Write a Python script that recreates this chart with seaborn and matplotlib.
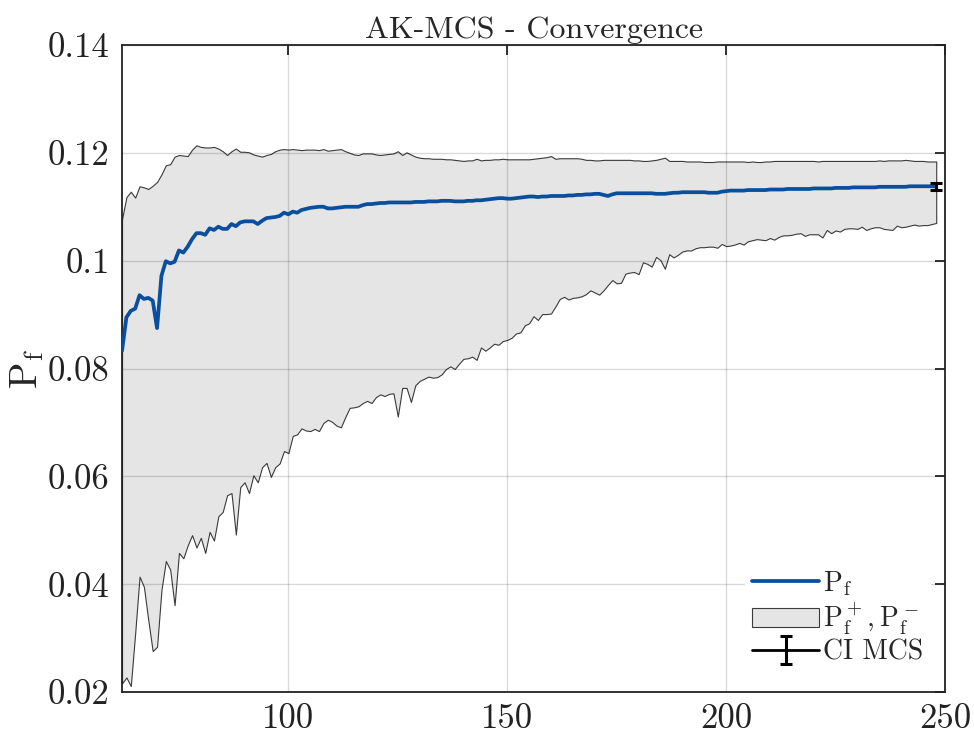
import numpy as np
import pandas as pd
import seaborn as sns
import matplotlib
matplotlib.use("Agg")
import matplotlib.pyplot as plt
from matplotlib.lines import Line2D
from matplotlib.patches import Patch

# Number of model evaluations (experimental design size)
n_samples = list(range(62, 249))

# Failure probability estimate
pf = [
    0.0833, 0.0895, 0.0907, 0.0911, 0.0936, 0.0929, 0.0931, 0.0926, 0.0875, 0.0972,  # 62-71
    0.0999, 0.0995, 0.0998, 0.1019, 0.1015, 0.1026, 0.1040, 0.1051, 0.1051, 0.1048,  # 72-81
    0.1060, 0.1057, 0.1063, 0.1059, 0.1059, 0.1068, 0.1064, 0.1071, 0.1073, 0.1073,  # 82-91
    0.1073, 0.1068, 0.1074, 0.1079, 0.1080, 0.1081, 0.1083, 0.1089, 0.1086, 0.1091,  # 92-101
    0.1089, 0.1094, 0.1096, 0.1098, 0.1099, 0.1100, 0.1100, 0.1097, 0.1097, 0.1098,  # 102-111
    0.1099, 0.1100, 0.1100, 0.1100, 0.1100, 0.1103, 0.1105, 0.1105, 0.1106, 0.1107,  # 112-121
    0.1107, 0.1108, 0.1108, 0.1108, 0.1108, 0.1108, 0.1108, 0.1109, 0.1109, 0.1109,  # 122-131
    0.1110, 0.1110, 0.1110, 0.1111, 0.1111, 0.1111, 0.1110, 0.1110, 0.1110, 0.1111,  # 132-141
    0.1111, 0.1112, 0.1112, 0.1113, 0.1114, 0.1115, 0.1116, 0.1116, 0.1115, 0.1115,  # 142-151
    0.1116, 0.1117, 0.1118, 0.1119, 0.1119, 0.1118, 0.1119, 0.1119, 0.1120, 0.1120,  # 152-161
    0.1120, 0.1120, 0.1121, 0.1121, 0.1122, 0.1122, 0.1123, 0.1123, 0.1124, 0.1124,  # 162-171
    0.1122, 0.1120, 0.1123, 0.1125, 0.1125, 0.1125, 0.1125, 0.1125, 0.1125, 0.1125,  # 172-181
    0.1125, 0.1125, 0.1124, 0.1124, 0.1124, 0.1125, 0.1126, 0.1126, 0.1127, 0.1127,  # 182-191
    0.1127, 0.1127, 0.1127, 0.1127, 0.1126, 0.1126, 0.1126, 0.1128, 0.1129, 0.1130,  # 192-201
    0.1130, 0.1130, 0.1130, 0.1131, 0.1131, 0.1131, 0.1131, 0.1131, 0.1132, 0.1132,  # 202-211
    0.1132, 0.1132, 0.1133, 0.1133, 0.1133, 0.1133, 0.1133, 0.1133, 0.1134, 0.1134,  # 212-221
    0.1134, 0.1134, 0.1134, 0.1135, 0.1135, 0.1135, 0.1135, 0.1136, 0.1136, 0.1136,  # 222-231
    0.1136, 0.1136, 0.1136, 0.1137, 0.1137, 0.1137, 0.1137, 0.1137, 0.1137, 0.1137,  # 232-241
    0.1138, 0.1138, 0.1138, 0.1138, 0.1138, 0.1138, 0.1138,                          # 242-248
]

# Upper bound Pf+
pf_upper = [
    0.1077, 0.1118, 0.1128, 0.1117, 0.1138, 0.1136, 0.1133, 0.1139, 0.1146, 0.1160,
    0.1177, 0.1179, 0.1193, 0.1196, 0.1195, 0.1194, 0.1206, 0.1214, 0.1211, 0.1210,
    0.1210, 0.1211, 0.1208, 0.1203, 0.1196, 0.1203, 0.1208, 0.1202, 0.1202, 0.1201,
    0.1197, 0.1195, 0.1193, 0.1196, 0.1198, 0.1203, 0.1206, 0.1207, 0.1206, 0.1207,
    0.1206, 0.1205, 0.1206, 0.1206, 0.1206, 0.1205, 0.1207, 0.1204, 0.1205, 0.1206,
    0.1207, 0.1203, 0.1200, 0.1197, 0.1196, 0.1199, 0.1199, 0.1199, 0.1197, 0.1196,
    0.1197, 0.1198, 0.1199, 0.1203, 0.1196, 0.1201, 0.1197, 0.1193, 0.1191, 0.1190,
    0.1190, 0.1189, 0.1189, 0.1189, 0.1188, 0.1188, 0.1187, 0.1186, 0.1185, 0.1186,
    0.1186, 0.1189, 0.1186, 0.1187, 0.1187, 0.1188, 0.1188, 0.1189, 0.1188, 0.1188,
    0.1188, 0.1188, 0.1188, 0.1188, 0.1189, 0.1190, 0.1191, 0.1192, 0.1194, 0.1189,
    0.1190, 0.1190, 0.1190, 0.1190, 0.1190, 0.1189, 0.1187, 0.1187, 0.1186, 0.1186,
    0.1187, 0.1187, 0.1187, 0.1187, 0.1187, 0.1187, 0.1187, 0.1186, 0.1186, 0.1185,
    0.1185, 0.1186, 0.1187, 0.1189, 0.1191, 0.1185, 0.1185, 0.1185, 0.1185, 0.1184,
    0.1184, 0.1184, 0.1184, 0.1183, 0.1183, 0.1183, 0.1184, 0.1184, 0.1184, 0.1184,
    0.1184, 0.1184, 0.1184, 0.1183, 0.1184, 0.1183, 0.1183, 0.1184, 0.1184, 0.1185,
    0.1185, 0.1185, 0.1185, 0.1185, 0.1185, 0.1185, 0.1185, 0.1185, 0.1185, 0.1184,
    0.1185, 0.1185, 0.1185, 0.1185, 0.1185, 0.1185, 0.1185, 0.1185, 0.1185, 0.1185,
    0.1185, 0.1185, 0.1185, 0.1186, 0.1185, 0.1186, 0.1186, 0.1186, 0.1186, 0.1187,
    0.1186, 0.1185, 0.1185, 0.1185, 0.1184, 0.1184, 0.1184,
]

# Lower bound Pf-
pf_lower = [
    0.0216, 0.0227, 0.0211, 0.0309, 0.0414, 0.0395, 0.0333, 0.0276, 0.0284, 0.0389,
    0.0443, 0.0427, 0.0361, 0.0458, 0.0448, 0.0472, 0.0491, 0.0468, 0.0486, 0.0458,
    0.0497, 0.0481, 0.0526, 0.0534, 0.0565, 0.0569, 0.0492, 0.0580, 0.0589, 0.0569,
    0.0602, 0.0589, 0.0617, 0.0625, 0.0599, 0.0617, 0.0624, 0.0647, 0.0643, 0.0675,
    0.0678, 0.0689, 0.0685, 0.0684, 0.0688, 0.0684, 0.0699, 0.0705, 0.0701, 0.0694,
    0.0691, 0.0710, 0.0727, 0.0728, 0.0730, 0.0736, 0.0740, 0.0736, 0.0747, 0.0752,
    0.0749, 0.0753, 0.0754, 0.0711, 0.0764, 0.0764, 0.0738, 0.0769, 0.0777, 0.0781,
    0.0785, 0.0783, 0.0784, 0.0789, 0.0799, 0.0804, 0.0799, 0.0809, 0.0818, 0.0819,
    0.0822, 0.0816, 0.0839, 0.0833, 0.0839, 0.0846, 0.0844, 0.0851, 0.0853, 0.0857,
    0.0865, 0.0867, 0.0880, 0.0884, 0.0897, 0.0890, 0.0901, 0.0901, 0.0902, 0.0915,
    0.0929, 0.0933, 0.0928, 0.0931, 0.0932, 0.0934, 0.0938, 0.0945, 0.0941, 0.0937,
    0.0945, 0.0955, 0.0964, 0.0958, 0.0959, 0.0976, 0.0978, 0.0979, 0.0975, 0.0997,
    0.0994, 0.0989, 0.1007, 0.1001, 0.0985, 0.1012, 0.1006, 0.1011, 0.1017, 0.1019,
    0.1019, 0.1023, 0.1025, 0.1025, 0.1026, 0.1026, 0.1024, 0.1031, 0.1027, 0.1028,
    0.1030, 0.1033, 0.1030, 0.1036, 0.1038, 0.1040, 0.1039, 0.1038, 0.1042, 0.1039,
    0.1044, 0.1047, 0.1047, 0.1048, 0.1050, 0.1051, 0.1046, 0.1049, 0.1049, 0.1049,
    0.1043, 0.1057, 0.1051, 0.1056, 0.1054, 0.1059, 0.1060, 0.1060, 0.1059, 0.1063,
    0.1057, 0.1060, 0.1062, 0.1062, 0.1059, 0.1058, 0.1057, 0.1065, 0.1062, 0.1063,
    0.1065, 0.1067, 0.1065, 0.1066, 0.1066, 0.1068, 0.1070,
]

# Reference Monte Carlo confidence interval
mcs_n = 248
mcs_pf = 0.1138
mcs_ci_half = 0.0007

x_ticks = [100, 150, 200, 250]
y_ticks = [0.02, 0.04, 0.06, 0.08, 0.10, 0.12, 0.14]
y_tick_labels = ["0.02", "0.04", "0.06", "0.08", "0.1", "0.12", "0.14"]

df = pd.DataFrame({"N": n_samples, "Pf": pf, "Pf_up": pf_upper, "Pf_lo": pf_lower})

sns.set_style("white")
plt.rcParams["font.family"] = ["serif"]
plt.rcParams["font.serif"] = ["cmr10", "DejaVu Serif"]
plt.rcParams["mathtext.fontset"] = "cm"
plt.rcParams["axes.formatter.use_mathtext"] = True

blue = "#0a4f9d"
band_face = "#e5e5e5"
band_edge = "#3a3a3a"

fig = plt.figure(figsize=(9.74, 7.38), dpi=100)
ax = fig.add_axes([0.1253, 0.0623, 0.8449, 0.8767])

ax.fill_between(df["N"], df["Pf_lo"], df["Pf_up"], facecolor=band_face,
                edgecolor=band_edge, linewidth=0.8, zorder=1)
sns.lineplot(data=df, x="N", y="Pf", color=blue, linewidth=2.7,
             estimator=None, ax=ax, zorder=3)
ax.errorbar([mcs_n], [mcs_pf], yerr=[mcs_ci_half], fmt="k-", ecolor="k",
            linewidth=2.0, elinewidth=2.2, capsize=4, capthick=2.2, zorder=4)

ax.set_xlim(62, 250)
ax.set_ylim(0.02, 0.14)
ax.set_xticks(x_ticks)
ax.set_xticklabels([str(t) for t in x_ticks])
ax.set_yticks(y_ticks)
ax.set_yticklabels(y_tick_labels)

ax.set_axisbelow("line")
ax.grid(True, color="black", alpha=0.15, linewidth=1.0)
ax.tick_params(axis="both", which="both", direction="in", length=7, width=1.3,
               top=True, right=True, labelsize=25, colors="#222222")
ax.tick_params(axis="y", pad=9)
ax.tick_params(axis="x", pad=8)
for sp in ax.spines.values():
    sp.set_color("#222222")
    sp.set_linewidth(1.3)

ax.set_xlabel("")
ax.set_ylabel(r"$\mathrm{P_f}$", fontsize=28)
ax.yaxis.set_label_coords(-0.093, 0.5)
ax.set_title("AK-MCS - Convergence", fontsize=23, pad=5)

handles = [
    Line2D([0], [0], color=blue, linewidth=2.7),
    Patch(facecolor=band_face, edgecolor=band_edge, linewidth=0.8),
    ax.containers[0],
]
labels = [r"$\mathrm{P_f}$", r"$\mathrm{P_f^+, P_f^-}$", "CI MCS"]
leg = ax.legend(handles, labels, loc="lower right", bbox_to_anchor=(0.982, 0.03),
                fontsize=20, frameon=True, fancybox=False, framealpha=1.0,
                edgecolor="white", handlelength=2.4, handletextpad=0.15,
                borderaxespad=0.0, labelspacing=0.1, borderpad=0.25)

fig.savefig("out.png", dpi=100)
